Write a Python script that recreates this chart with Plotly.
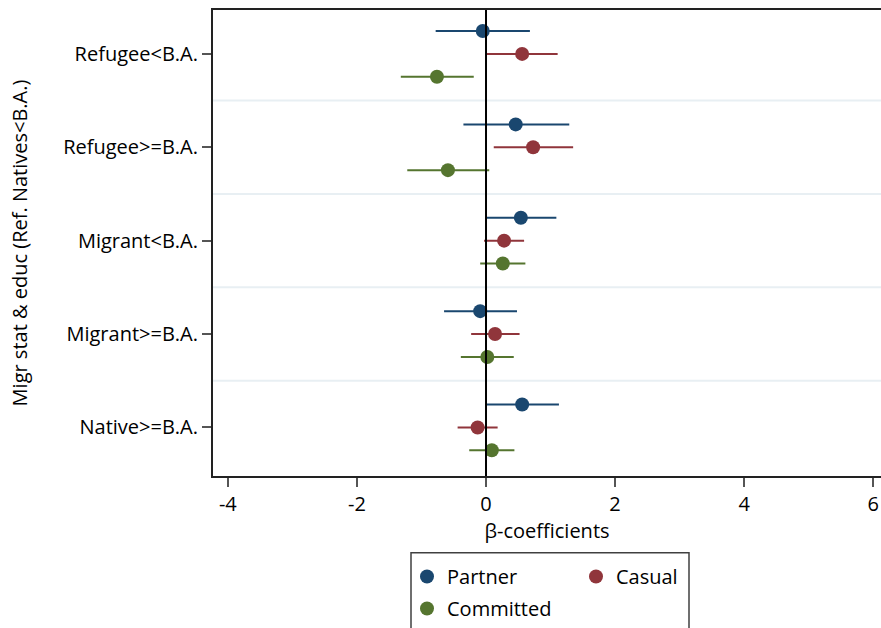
import plotly.graph_objects as go

categories = ["Refugee<B.A.", "Refugee>=B.A.", "Migrant<B.A.", "Migrant>=B.A.", "Native>=B.A."]

partner_coef = [-0.05, 0.46, 0.54, -0.09, 0.56]
partner_lo = [-0.78, -0.35, 0.00, -0.65, -0.01]
partner_hi = [0.68, 1.29, 1.09, 0.48, 1.13]

casual_coef = [0.56, 0.73, 0.28, 0.14, -0.13]
casual_lo = [0.00, 0.12, -0.03, -0.23, -0.44]
casual_hi = [1.11, 1.35, 0.59, 0.52, 0.18]

committed_coef = [-0.76, -0.59, 0.26, 0.02, 0.09]
committed_lo = [-1.32, -1.22, -0.09, -0.39, -0.26]
committed_hi = [-0.19, 0.05, 0.61, 0.43, 0.44]

x_ticks = [-4, -2, 0, 2, 4, 6]

FONT = "Open Sans"
FS = 20
TXT = "#000000"

n = len(categories)
base = [n - i for i in range(n)]  # 5..1 top to bottom

series = [
    ("Partner", partner_coef, partner_lo, partner_hi, "#1a476f", 0.245, "legend"),
    ("Casual", casual_coef, casual_lo, casual_hi, "#90353b", 0.0, "legend"),
    ("Committed", committed_coef, committed_lo, committed_hi, "#55752f", -0.245, "legend2"),
]

fig = go.Figure()
for name, c, lo, hi, col, off, leg in series:
    fig.add_trace(go.Scatter(
        x=c, y=[b + off for b in base], mode="markers", name=name,
        marker=dict(color=col, size=14),
        error_x=dict(type="data", symmetric=False,
                     array=[h - v for h, v in zip(hi, c)],
                     arrayminus=[v - l for v, l in zip(c, lo)],
                     color=col, thickness=2, width=0),
        legend=leg,
    ))

W, H = 881, 628
ml, mr, mt, mb = 213, 0, 10, 151
pw = W - ml - mr
ph = H - mt - mb

def px_x(px):
    return (px - ml) / pw

def px_y(py):
    return (H - mb - py) / ph

shapes = []
for g in [4.5, 3.5, 2.5, 1.5]:
    shapes.append(dict(type="line", xref="paper", yref="y", x0=0, x1=1, y0=g, y1=g,
                       line=dict(color="#e8eff3", width=2), layer="below"))
shapes.append(dict(type="line", xref="x", yref="paper", x0=0, x1=0, y0=0, y1=1,
                   line=dict(color="black", width=2), layer="above"))
shapes.append(dict(type="rect", xref="paper", yref="paper",
                   x0=px_x(411), x1=px_x(689), y0=px_y(554), y1=px_y(660),
                   line=dict(color="#404040", width=1.5), fillcolor="rgba(0,0,0,0)"))

fig.update_layout(
    width=W, height=H,
    margin=dict(l=ml, r=mr, t=mt, b=mb),
    paper_bgcolor="white", plot_bgcolor="white",
    font=dict(family=FONT, size=FS, color=TXT),
    shapes=shapes,
    showlegend=True,
    legend=dict(orientation="h", x=px_x(407), xanchor="left", y=px_y(557), yanchor="top",
                entrywidth=124, entrywidthmode="pixels", bgcolor="rgba(0,0,0,0)",
                borderwidth=0, font=dict(family=FONT, size=FS, color=TXT)),
    legend2=dict(orientation="h", x=px_x(407), xanchor="left", y=px_y(590), yanchor="top",
                 bgcolor="rgba(0,0,0,0)", borderwidth=0,
                 font=dict(family=FONT, size=FS, color=TXT)),
    xaxis=dict(range=[-4.23, 6.12], tickvals=x_ticks, ticktext=[str(t) for t in x_ticks],
               showgrid=False, zeroline=False, showline=True, linecolor="#222222", linewidth=2,
               mirror=True, ticks="outside", ticklen=9, tickwidth=1.5, tickcolor="#555555",
               title=dict(text="β-coefficients", font=dict(family=FONT, size=FS), standoff=0)),
    yaxis=dict(range=[0.48, 5.47], tickvals=base, ticktext=categories,
               showgrid=False, zeroline=False, showline=True, linecolor="#222222", linewidth=2,
               ticks="outside", ticklen=9, tickwidth=1.5, tickcolor="#555555",
               title=dict(text="Migr stat & educ (Ref. Natives<B.A.)",
                          font=dict(family=FONT, size=FS), standoff=30)),
)

fig.write_html("out.html", config={"displayModeBar": False},
               post_script="document.body.style.margin='0';document.body.style.overflow='hidden';")
